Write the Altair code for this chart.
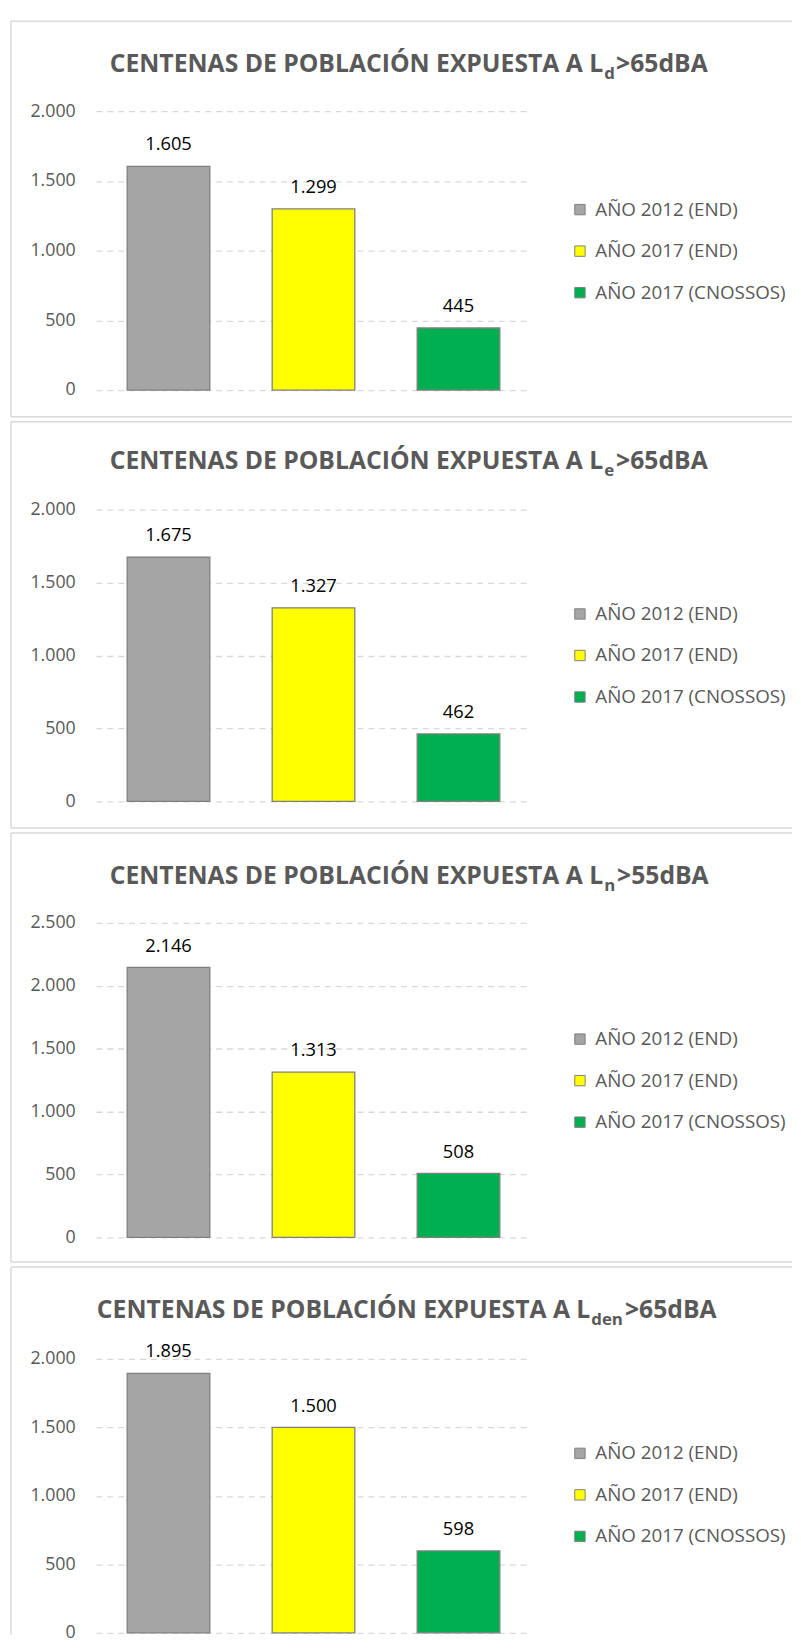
import altair as alt
import pandas as pd

# ---- data ----
categories = ["AÑO 2012 (END)", "AÑO 2017 (END)", "AÑO 2017 (CNOSSOS)"]
colors = ["#a5a5a5", "#ffff00", "#00b050"]

title_main = "CENTENAS DE POBLACIÓN EXPUESTA A L"
title_subs = ["d", "e", "n", "den"]
title_suffixes = [">65dBA", ">65dBA", ">55dBA", ">65dBA"]

values_ld = [1605, 1299, 445]
values_le = [1675, 1327, 462]
values_ln = [2146, 1313, 508]
values_lden = [1895, 1500, 598]

ticks_2000 = [0, 500, 1000, 1500, 2000]
ticks_2500 = [0, 500, 1000, 1500, 2000, 2500]

# ---- layout (pixel styling per panel) ----
W = 790
layout = [
    dict(h=400, yr=[373, 91], ty=51, mr=599, sl=600, sx=612, ly=181, bottom=True),
    dict(h=411, yr=[384, 89], ty=48, mr=599, sl=600, sx=612, ly=185, bottom=True),
    dict(h=434, yr=[409, 91], ty=52, mr=599, sl=600, sx=613, ly=199, bottom=True),
    dict(h=372, yr=[370, 93], ty=52, mr=586, sl=587, sx=621, ly=179, bottom=False),
]

FONT = "Open Sans"
TXT = "#595959"
BORDER = "#d9d9d9"
fmt = "replace(format({}, ','), ',', '.')"
one = pd.DataFrame({"k": [0]})


def panel(vals, ticks, sub, suffix, L):
    df = pd.DataFrame({"serie": categories, "valor": vals})
    base = alt.Chart(df)
    xenc = alt.X("serie:N", sort=categories, axis=None,
                 scale=alt.Scale(range=[86, 526], paddingInner=0.43, paddingOuter=0.215))
    yenc = alt.Y("valor:Q",
                 scale=alt.Scale(domain=[ticks[0], ticks[-1]], range=L["yr"], nice=False),
                 axis=alt.Axis(values=ticks, title=None, grid=True, gridDash=[6, 5],
                               gridColor="#d9d9d9", gridWidth=1.3, domain=False, ticks=False,
                               tickSize=0, labelPadding=0, offset=-65, labelFont=FONT,
                               labelFontSize=18, labelColor=TXT,
                               labelExpr=fmt.format("datum.value")))
    color = alt.Color("serie:N", sort=categories,
                      scale=alt.Scale(domain=categories, range=colors),
                      legend=alt.Legend(title=None, orient="none", legendX=566, legendY=L["ly"],
                                        direction="vertical", symbolType="square",
                                        symbolSize=110, symbolStrokeColor="#7f7f7f",
                                        symbolStrokeWidth=1, labelFont=FONT, labelFontSize=19,
                                        labelColor=TXT, labelOffset=6, rowPadding=22,
                                        labelLimit=400, padding=0))
    bars = base.mark_bar(stroke="#7f7f7f", strokeWidth=1.3).encode(x=xenc, y=yenc, color=color)
    labels = base.transform_calculate(lbl=fmt.format("datum.valor")).mark_text(
        dy=-16, baseline="alphabetic", font=FONT, fontSize=18.5, color="black"
    ).encode(x=alt.X("serie:N", sort=categories), y="valor:Q", text="lbl:N")

    t1 = alt.Chart(pd.DataFrame({"t": [title_main]})).mark_text(
        align="right", baseline="alphabetic", font=FONT, fontWeight="bold", fontSize=25, color=TXT
    ).encode(text="t:N", x=alt.value(L["mr"]), y=alt.value(L["ty"]))
    t2 = alt.Chart(pd.DataFrame({"t": [sub]})).mark_text(
        align="left", baseline="alphabetic", font=FONT, fontWeight="bold", fontSize=17, color=TXT
    ).encode(text="t:N", x=alt.value(L["sl"]), y=alt.value(L["ty"] + 7))
    t3 = alt.Chart(pd.DataFrame({"t": [suffix]})).mark_text(
        align="left", baseline="alphabetic", font=FONT, fontWeight="bold", fontSize=25, color=TXT
    ).encode(text="t:N", x=alt.value(L["sx"]), y=alt.value(L["ty"]))

    rule = alt.Chart(one).mark_rule(color=BORDER, strokeWidth=1.5)
    b_top = rule.encode(x=alt.value(0), x2=alt.value(W), y=alt.value(0))
    b_left = rule.encode(x=alt.value(0), y=alt.value(0), y2=alt.value(L["h"]))
    layers = [b_top, b_left]
    if L["bottom"]:
        layers.append(rule.encode(x=alt.value(0), x2=alt.value(W), y=alt.value(L["h"])))

    return alt.layer(*layers, bars, labels, t1, t2, t3).properties(width=W, height=L["h"])


all_values = [values_ld, values_le, values_ln, values_lden]
all_ticks = [ticks_2000, ticks_2000, ticks_2500, ticks_2000]

panels = [panel(all_values[i], all_ticks[i], title_subs[i], title_suffixes[i], layout[i])
          for i in range(4)]

chart = alt.vconcat(*panels, spacing=3).resolve_scale(
    x="independent", y="independent", color="independent"
).resolve_legend(color="independent").properties(
    padding={"left": 2, "top": 3, "right": 0, "bottom": 0}
).configure_view(strokeWidth=0)

chart.save("out.html", embed_options={"renderer": "svg", "actions": False})
